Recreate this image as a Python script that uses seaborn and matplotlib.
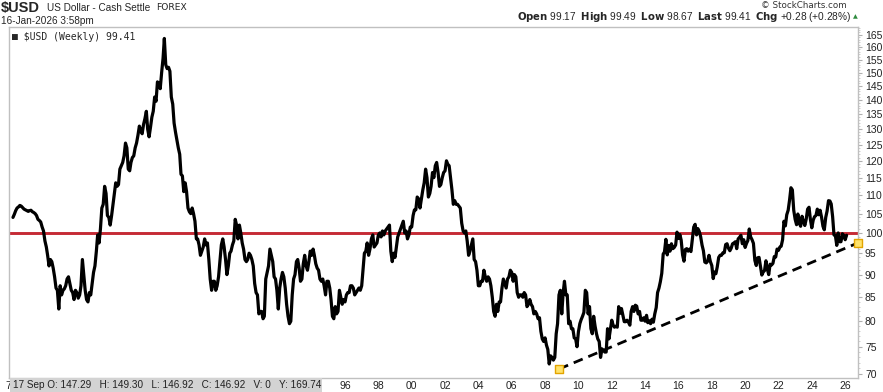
import numpy as np
import pandas as pd
import matplotlib
matplotlib.use("Agg")
import matplotlib.pyplot as plt
import matplotlib.ticker as mticker
from matplotlib.patches import Rectangle
import seaborn as sns

# $USD weekly chart, re-drawn from monthly closes

# monthly closes, one row per year, Jan..Dec (1976..2025) + Jan 2026
usd_1976_1985 = [
    104.0, 104.8, 105.8, 106.5, 106.8, 107.2, 107.0, 106.6, 106.2, 106.0, 105.8, 105.6,
    105.8, 105.9, 105.5, 105.3, 105.0, 104.5, 103.5, 103.2, 102.8, 101.5, 100.5, 98.0,
    96.5, 94.5, 92.0, 93.5, 93.0, 91.5, 89.5, 87.0, 86.5, 82.5, 87.5, 85.5,
    86.5, 86.8, 87.5, 89.0, 89.5, 88.0, 86.5, 86.0, 84.5, 86.5, 86.0, 84.8,
    85.5, 87.5, 93.5, 90.0, 86.5, 84.5, 84.0, 86.0, 85.5, 88.0, 90.5, 92.0,
    95.5, 99.5, 97.5, 101.0, 106.5, 107.5, 112.5, 110.5, 104.5, 104.0, 102.0, 104.5,
    107.5, 110.5, 113.5, 112.5, 113.0, 117.5, 118.5, 119.5, 121.5, 125.5, 124.0, 117.5,
    117.0, 119.5, 121.0, 121.5, 124.0, 125.5, 128.0, 131.0, 129.5, 128.5, 131.5, 133.5,
    136.0, 130.0, 127.5, 130.5, 134.0, 136.0, 141.0, 139.5, 146.5, 146.0, 144.0, 150.0,
    155.5, 163.5, 153.0, 151.5, 152.0, 150.5, 141.0, 138.5, 132.0, 129.0, 126.5, 124.0,
]
usd_1986_1995 = [
    122.0, 116.0, 115.5, 111.0, 113.5, 111.0, 106.5, 105.5, 105.0, 106.5, 105.0, 103.0,
    98.5, 98.5, 97.0, 94.5, 95.5, 96.5, 98.5, 97.0, 97.5, 93.5, 89.0, 86.5,
    88.5, 88.5, 86.5, 87.5, 89.5, 93.0, 97.0, 98.5, 96.5, 93.5, 90.0, 92.0,
    95.0, 95.5, 97.0, 98.0, 103.5, 102.0, 98.5, 102.0, 100.0, 97.5, 96.0, 93.5,
    93.0, 93.5, 95.0, 94.5, 93.5, 92.0, 88.0, 86.0, 85.5, 81.5, 82.0, 82.0,
    80.5, 81.0, 89.0, 90.5, 92.0, 96.0, 94.5, 93.0, 89.5, 89.0, 86.5, 82.5,
    87.0, 89.0, 90.5, 89.5, 87.0, 83.5, 81.0, 79.5, 80.0, 85.5, 89.0, 90.0,
    93.0, 93.5, 91.5, 88.5, 89.0, 92.5, 94.5, 92.0, 91.0, 93.0, 95.5, 94.5,
    96.0, 94.5, 92.5, 91.5, 91.0, 89.0, 88.5, 89.0, 87.5, 85.5, 88.5, 88.5,
    87.0, 84.5, 81.0, 80.5, 83.0, 81.5, 82.0, 86.5, 85.0, 83.5, 84.5, 84.0,
]
usd_1996_2005 = [
    85.5, 86.0, 86.0, 87.5, 87.5, 87.0, 85.5, 86.0, 86.5, 87.0, 86.5, 87.5,
    91.5, 95.0, 95.5, 97.5, 94.5, 96.0, 98.5, 99.5, 96.5, 97.0, 97.5, 99.5,
    100.0, 99.0, 100.5, 99.5, 100.5, 101.0, 101.5, 102.0, 95.5, 93.0, 95.0, 94.0,
    96.5, 99.0, 100.0, 101.0, 102.0, 103.0, 100.0, 100.5, 98.5, 99.5, 101.5, 101.5,
    104.5, 106.0, 106.0, 109.5, 109.0, 106.5, 109.0, 111.5, 113.5, 117.5, 115.0, 109.5,
    110.5, 112.5, 116.5, 115.0, 118.5, 119.5, 116.5, 112.5, 113.0, 115.0, 116.5, 117.0,
    120.0, 119.0, 118.5, 115.0, 111.5, 107.5, 108.5, 107.5, 107.5, 107.0, 106.5, 102.5,
    100.5, 100.0, 100.5, 98.0, 94.5, 95.5, 97.0, 98.5, 93.5, 93.0, 91.0, 87.5,
    87.5, 88.5, 88.5, 91.0, 89.5, 88.5, 89.5, 89.0, 87.5, 85.0, 82.0, 81.0,
    83.5, 82.0, 84.0, 84.0, 87.0, 89.0, 88.0, 87.0, 89.0, 89.5, 91.0, 90.5,
]
usd_2006_2015 = [
    88.5, 90.0, 89.5, 86.0, 85.0, 85.5, 85.5, 85.0, 86.0, 85.5, 83.0, 83.5,
    84.5, 83.5, 83.0, 81.5, 82.0, 81.5, 80.5, 80.7, 78.0, 76.5, 76.0, 76.7,
    75.3, 74.5, 71.8, 73.3, 73.0, 72.5, 73.0, 77.5, 79.5, 85.5, 86.5, 81.5,
    86.0, 88.5, 85.5, 85.5, 79.5, 80.0, 78.5, 78.5, 76.7, 76.5, 75.0, 77.9,
    79.5, 80.3, 81.0, 81.8, 86.5, 86.0, 81.5, 83.0, 78.5, 77.5, 81.0, 79.0,
    77.5, 76.5, 76.0, 73.0, 74.6, 74.3, 74.0, 74.0, 78.5, 76.5, 78.3, 80.2,
    79.2, 78.8, 79.0, 78.8, 83.0, 81.6, 82.6, 81.2, 79.9, 79.9, 80.2, 79.8,
    79.2, 82.0, 83.0, 82.0, 83.3, 83.1, 81.5, 82.0, 80.2, 80.2, 80.7, 80.0,
    81.2, 79.7, 80.1, 79.5, 80.4, 79.8, 81.5, 82.8, 86.0, 87.0, 88.4, 90.3,
    94.8, 95.3, 98.4, 94.6, 96.9, 95.5, 97.3, 96.1, 96.4, 97.0, 100.2, 98.6,
]
usd_2016_2026 = [
    99.6, 98.2, 94.6, 93.1, 95.9, 96.1, 95.5, 96.0, 95.4, 98.4, 101.5, 102.2,
    99.5, 101.1, 100.4, 99.1, 97.0, 95.6, 92.9, 92.7, 93.1, 94.5, 93.0, 92.1,
    89.1, 90.6, 90.2, 91.8, 94.0, 94.5, 94.5, 95.1, 95.1, 97.1, 97.3, 96.2,
    95.6, 96.2, 97.3, 97.5, 97.8, 96.1, 98.5, 98.9, 99.4, 97.3, 98.3, 96.4,
    97.4, 98.1, 101.0, 99.0, 98.3, 97.4, 93.3, 92.1, 93.9, 94.0, 91.9, 89.9,
    90.6, 90.9, 93.2, 91.3, 90.0, 92.4, 92.2, 92.6, 94.2, 94.1, 96.0, 95.7,
    96.5, 96.7, 98.3, 103.0, 101.8, 104.7, 105.9, 108.7, 112.1, 111.5, 105.9, 103.5,
    102.1, 104.9, 102.5, 101.7, 104.3, 102.9, 101.9, 103.6, 106.2, 106.7, 103.5, 101.3,
    103.3, 104.2, 104.5, 106.2, 104.7, 105.9, 104.1, 101.7, 100.8, 104.0, 105.7, 108.5,
    108.4, 107.6, 104.2, 99.5, 99.3, 96.9, 100.0, 97.8, 97.8, 99.8, 99.4, 98.3,
    99.41,
]

usd_close = usd_1976_1985 + usd_1986_1995 + usd_1996_2005 + usd_2006_2015 + usd_2016_2026
month_ends = pd.date_range("1976-01-31", periods=len(usd_close), freq="ME")
df = pd.DataFrame({"date": month_ends, "close": usd_close})

# horizontal level and rising trendline
level_line = 100
trend_dates = pd.to_datetime(["2008-11-03", "2026-10-05"])
trend_vals = [70.9, 97.5]

y_ticks = list(range(70, 170, 5))
x_years = list(range(1976, 2027, 2))
# years 1978-1994 sit under the grey data box in the picture
x_labels = [f"{y % 100:02d}" if (y == 1976 or y >= 1996) else "" for y in x_years]

sns.set_style("white")
plt.rcParams["font.family"] = ["Liberation Sans", "DejaVu Sans"]

fig = plt.figure(figsize=(8.83, 3.92), dpi=100)
ax = fig.add_axes([9 / 883, 14 / 392, 849 / 883, 351 / 392])

sns.lineplot(data=df, x="date", y="close", ax=ax, color="black", lw=2.3,
             estimator=None, zorder=3)
ax.axhline(level_line, color="#c52a35", lw=2.1, zorder=2)
sns.lineplot(x=trend_dates, y=trend_vals, ax=ax, color="black", lw=2.0,
             linestyle=(0, (3.5, 2.2)), estimator=None, zorder=4)
ax.scatter(trend_dates, trend_vals, marker="s", s=26, facecolor="#ffe36b",
           edgecolor="#e3a400", linewidth=1.0, zorder=6, clip_on=False)

ax.set_yscale("log")
ax.set_ylim(69.3, 168.3)
ax.set_xlim(pd.Timestamp("1975-11-05"), pd.Timestamp("2026-10-08"))

ax.yaxis.tick_right()
ax.yaxis.set_major_locator(mticker.FixedLocator(y_ticks))
ax.yaxis.set_major_formatter(mticker.FixedFormatter([str(v) for v in y_ticks]))
ax.yaxis.set_minor_locator(mticker.FixedLocator(list(range(70, 169))))
ax.yaxis.set_minor_formatter(mticker.NullFormatter())
ax.tick_params(axis="y", which="major", length=3, width=0.8, color="#b0b0b0",
               labelsize=7.5, labelcolor="#222222", pad=2)
ax.tick_params(axis="y", which="minor", length=1.5, width=0.6, color="#c8c8c8")

ax.set_xticks(pd.to_datetime([f"{y}-01-01" for y in x_years]))
ax.set_xticklabels(x_labels)
ax.tick_params(axis="x", length=0, labelsize=7.5, labelcolor="#222222", pad=2.5)
ax.set_xlabel("")
ax.set_ylabel("")

for side in ["left", "bottom", "top", "right"]:
    ax.spines[side].set_color("#c0c0c0")
    ax.spines[side].set_linewidth(1.0)

# header texts
fig.text(1 / 883, 1 - 8 / 392, "$USD", fontsize=10.5, fontweight="bold", va="center")
fig.text(47 / 883, 1 - 8 / 392, "US Dollar - Cash Settle", fontsize=7.2, va="center")
fig.text(156 / 883, 1 - 8 / 392, "FOREX", fontsize=6.6, va="center",
         family=["DejaVu Sans"])
fig.text(1 / 883, 1 - 21 / 392, "16-Jan-2026 3:58pm", fontsize=7.2, va="center")
fig.text(847 / 883, 1 - 5.5 / 392, "\u00a9 StockCharts.com", fontsize=6.3, va="center",
         ha="right", color="#333333", family=["DejaVu Sans"])
fig.text(851 / 883, 1 - 17 / 392,
         r"$\bf{Open}$ 99.17  $\bf{High}$ 99.49  $\bf{Low}$ 98.67  "
         r"$\bf{Last}$ 99.41  $\bf{Chg}$ +0.28 (+0.28%)",
         fontsize=7.3, va="center", ha="right")
fig.text(855.5 / 883, 1 - 16.5 / 392, "\u25b2", fontsize=4.5, va="center",
         ha="center", color="#2e8b3e", family=["DejaVu Sans"])

# legend tag inside the chart
ax.text(0.004, 0.985, "\u25a0\u00a0$USD (Weekly) 99.41", transform=ax.transAxes,
        fontsize=7, va="top", ha="left", family=["DejaVu Sans Mono"], zorder=7)

# grey data box over the left part of the date axis
fig.patches.append(Rectangle((10 / 883, 0), 312 / 883, 14 / 392,
                             transform=fig.transFigure, facecolor="#d3d3d3",
                             edgecolor="none", zorder=5))
fig.text(13 / 883, 7 / 392,
         "17 Sep O: 147.29   H: 149.30   L: 146.92   C: 146.92   V: 0   Y: 169.74",
         fontsize=7.2, va="center", ha="left", color="#222222", zorder=6)

fig.savefig("out.png", dpi=100)
